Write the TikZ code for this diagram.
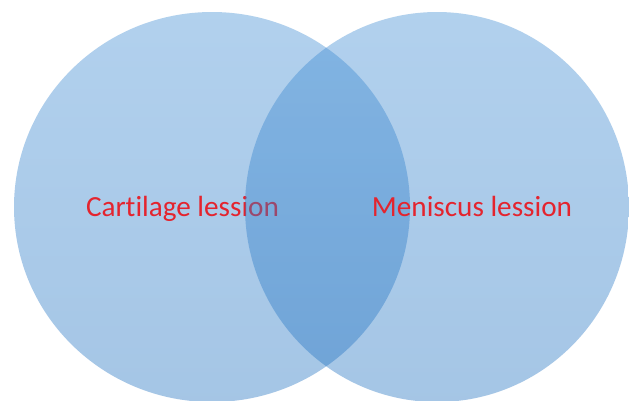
\documentclass[tikz,border=0pt]{standalone}
\usepackage{fontspec}
\setmainfont{Carlito}[Ligatures={NoCommon,NoContextual}]
\definecolor{bluetop}{RGB}{62,140,212}
\definecolor{bluebot}{RGB}{30,112,192}
\definecolor{lblred}{RGB}{228,36,46}
\tikzset{
  venn/.style={top color=bluetop, bottom color=bluebot, opacity=0.4, draw=none},
  lbl/.style={text=lblred, font=\fontsize{29.3}{34}\selectfont, anchor=base, inner sep=0pt}
}
\begin{document}
\begin{tikzpicture}[x=1bp,y=-1bp]
\useasboundingbox (0,0) rectangle (629,400);
\fill[white] (0,0) rectangle (629,400);
\shade[venn] (212,207) ellipse [x radius=198, y radius=195];
\node[lbl] (cart) at (182.5,216) {Cartilage lession};
\shade[venn] (437,207) ellipse [x radius=192, y radius=195];
\node[lbl] (men) at (472,216) {Meniscus lession};
\end{tikzpicture}
\end{document}
